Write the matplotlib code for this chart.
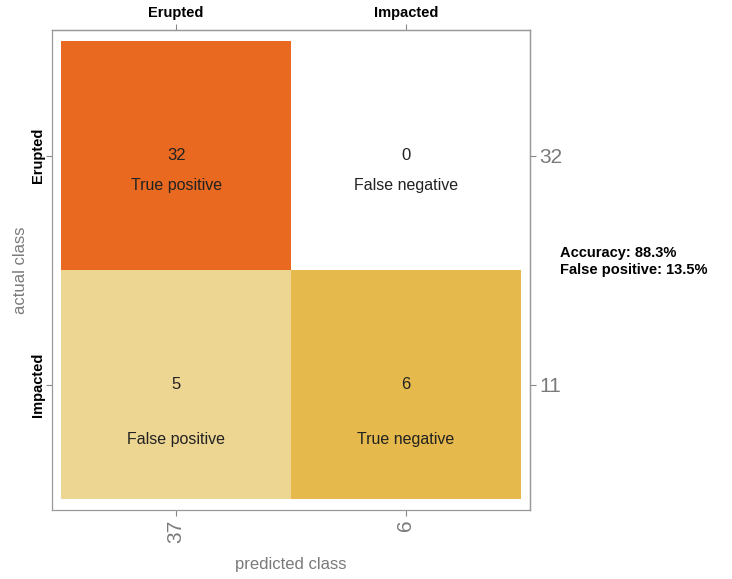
import numpy as np
import matplotlib.pyplot as plt
from matplotlib.patches import Rectangle

classes = ["Erupted", "Impacted"]
counts = [[32, 0],
          [5, 6]]
cell_names = [["True positive", "False negative"],
              ["False positive", "True negative"]]
cell_colors = [["#E8691F", "#FFFFFF"],
               ["#EDD692", "#E5B94B"]]
row_totals = [32, 11]
col_totals = [37, 6]
accuracy = 88.3
false_pos = 13.5

plt.rcParams["font.family"] = ["Liberation Sans", "DejaVu Sans"]
grey = "#7a7a7a"

fig = plt.figure(figsize=(7.32, 5.79), dpi=100)
ax = fig.add_axes([0.071, 0.119, 0.653, 0.829])

for i in range(2):
    for j in range(2):
        ax.add_patch(Rectangle((j - 0.5, i - 0.5), 1, 1,
                               facecolor=cell_colors[i][j], edgecolor="none"))
        ax.text(j, i, str(counts[i][j]), ha="center", va="center",
                fontsize=12, color="#222222")
        dy = 0.13 if i == 0 else 0.24
        ax.text(j, i + dy, cell_names[i][j], ha="center", va="center",
                fontsize=11.5, color="#222222")

ax.set_xlim(-0.541, 1.541)
ax.set_ylim(1.548, -0.548)

ax.set_xticks([0, 1])
ax.set_xticklabels(col_totals, rotation=90, fontsize=15, color=grey)
ax.set_yticks([0, 1])
ax.set_yticklabels(classes, rotation=90, va="center", fontsize=10.5,
                   fontweight="bold")
ax.set_xlabel("predicted class", fontsize=12, color=grey, labelpad=10)
ax.set_ylabel("actual class", fontsize=12, color=grey, labelpad=2)

top = ax.secondary_xaxis("top")
top.set_xticks([0, 1])
top.set_xticklabels(classes, fontsize=10.5, fontweight="bold")

right = ax.secondary_yaxis("right")
right.set_yticks([0, 1])
right.set_yticklabels(row_totals, fontsize=15, color=grey)

for a in (ax, top, right):
    a.tick_params(length=4, width=0.8, color="#888888", pad=3)
    for s in a.spines.values():
        s.set_color("#999999")
        s.set_linewidth(0.9)
ax.tick_params(axis="y", pad=1)

fig.text(0.765, 0.548, f"Accuracy: {accuracy}%\nFalse positive: {false_pos}%",
         fontsize=10.5, fontweight="bold", va="center", ha="left",
         linespacing=1.3)

fig.savefig("out.png", dpi=100)
